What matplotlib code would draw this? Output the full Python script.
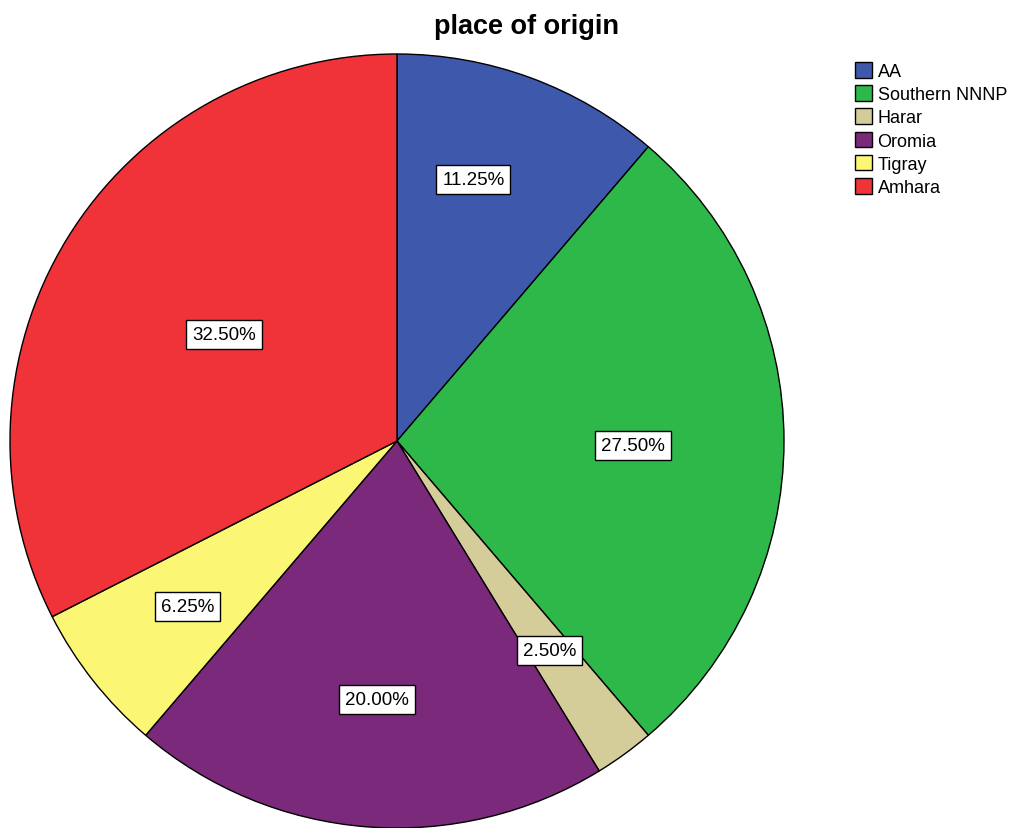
import numpy as np
import matplotlib
matplotlib.use('Agg')
import matplotlib.pyplot as plt

plt.rcParams['font.family'] = ['Liberation Sans', 'DejaVu Sans']

regions = ['AA', 'Southern NNNP', 'Harar', 'Oromia', 'Tigray', 'Amhara']
percents = [11.25, 27.50, 2.50, 20.00, 6.25, 32.50]
colors = ['#3E59AC', '#2FB84A', '#D4CD9A', '#7B2A7B', '#FBF775', '#EF3339']
# label placement: fraction of radius and angle nudge (deg) from wedge middle
label_radius = [0.705, 0.61, 0.67, 0.67, 0.69, 0.525]
label_shift = [4, -1, 0, 0, 0, 0]

fig = plt.figure(figsize=(10.13, 8.29), dpi=100)
ax = fig.add_axes([10 / 1013, 0, 774 / 1013, 774 / 829])

wedges, _ = ax.pie(percents, colors=colors, startangle=90, counterclock=False,
                   wedgeprops=dict(edgecolor='black', linewidth=1.0))
ax.set_xlim(-1, 1)
ax.set_ylim(-1, 1)
ax.set_aspect('equal')

for w, p, r, s in zip(wedges, percents, label_radius, label_shift):
    ang = np.deg2rad((w.theta1 + w.theta2) / 2 + s)
    ax.text(r * np.cos(ang), r * np.sin(ang), f'{p:.2f}%', fontsize=13.5,
            ha='center', va='center',
            bbox=dict(boxstyle='square,pad=0.32', facecolor='white',
                      edgecolor='black', linewidth=1.0))

fig.text(526 / 1013, 1 - 27 / 829, 'place of origin', fontsize=19.5,
         fontweight='bold', ha='center', va='center')

fig.legend(wedges, regions, loc='upper left', bbox_to_anchor=(855 / 1013, 1 - 63 / 829),
           frameon=False, fontsize=13, handlelength=0.95, handleheight=0.95,
           handletextpad=0.3, labelspacing=0.29, borderpad=0, borderaxespad=0)

fig.savefig('out.png', dpi=100)
